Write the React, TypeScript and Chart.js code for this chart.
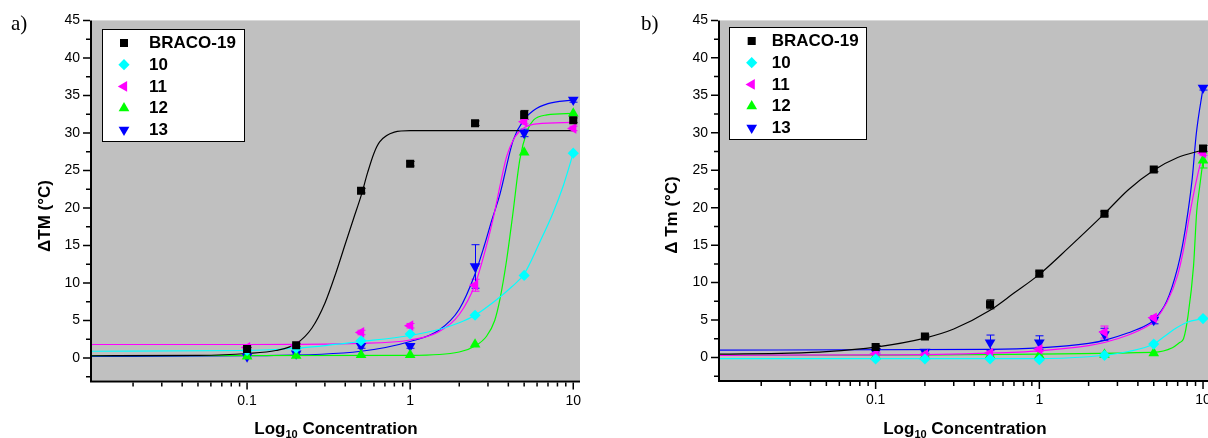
import React, { useEffect, useRef } from 'react';
import { Chart, registerables } from 'chart.js';
import { drawPoint } from 'chart.js/helpers';

Chart.register(...registerables);

// ---------------- data ----------------
const concentrations = [0.1, 0.2, 0.5, 1, 2.5, 5, 10];
const seriesNames = ['BRACO-19', '10', '11', '12', '13'];
const seriesColors = ['#000000', '#00FFFF', '#FF00FF', '#00FF00', '#0000FF'];
const pointStyles = ['rect', 'rectRot', 'triangle', 'triangle', 'triangle'];
const pointRotations = [0, 0, -90, 0, 180];
const pointRadii = [5.7, 5.6, 6.2, 6.2, 6.2];

const yMajorTicks = [0, 5, 10, 15, 20, 25, 30, 35, 40, 45];
const yMinorTicks = [-2.5, 2.5, 7.5, 12.5, 17.5, 22.5, 27.5, 32.5, 37.5, 42.5];
const xMajorTicks = [0.1, 1, 10];
const xMinorTicks = [0.02, 0.03, 0.04, 0.05, 0.06, 0.07, 0.08, 0.09, 0.2, 0.3, 0.4, 0.5, 0.6, 0.7, 0.8, 0.9, 2, 3, 4, 5, 6, 7, 8, 9];
const xTickLabels = ['0.1', '1', '10'];

// Panel a measured values
const a_braco = [1.2, 1.7, 22.3, 25.9, 31.3, 32.4, 31.7];
const a_c10 = [1.0, 1.3, 2.3, 3.2, 5.7, 11.0, 27.3];
const a_c11 = [1.4, 1.6, 3.4, 4.3, 9.7, 31.5, 30.6];
const a_c12 = [0.2, 0.3, 0.4, 0.4, 1.8, 27.4, 32.6];
const a_c13 = [0.2, 0.6, 1.6, 1.6, 12.2, 30.0, 34.4];
const a_err_braco = [0.2, 0.2, 0.3, 0.3, 0.3, 0.6, 0.3];
const a_err_c10 = [0, 0, 0, 0, 0, 0, 0];
const a_err_c11 = [0.2, 0.2, 0.3, 0.3, 0.8, 0.3, 0.3];
const a_err_c12 = [0, 0, 0, 0, 0, 0, 0];
const a_err_c13 = [0.2, 0.2, 0.3, 0.3, 2.9, 0.5, 0.3];

// Panel a fitted curves
const a_fit_braco_x = [0.0112, 0.05, 0.1, 0.15, 0.2, 0.25, 0.3, 0.35, 0.4, 0.45, 0.5, 0.55, 0.6, 0.65, 0.8, 1.0, 2, 10];
const a_fit_braco_y = [0.3, 0.35, 0.6, 1.0, 1.9, 4.0, 7.3, 11.3, 15.2, 18.6, 21.6, 24.8, 27.3, 28.8, 30.1, 30.3, 30.3, 30.3];
const a_fit_c10_x = [0.0112, 0.1, 0.2, 0.5, 1, 1.5, 2, 2.5, 3.4, 4.2, 5, 6.25, 7.5, 8.7, 10];
const a_fit_c10_y = [0.9, 1.0, 1.3, 2.2, 3.0, 3.8, 4.7, 5.7, 7.8, 9.5, 11.2, 15.5, 19.3, 23.0, 27.3];
const a_fit_c11_x = [0.0112, 0.1, 0.5, 1, 1.5, 2, 2.5, 2.9, 3.23, 3.6, 3.9, 4.4, 5, 6, 10];
const a_fit_c11_y = [1.8, 1.8, 1.95, 2.4, 3.5, 5.8, 9.8, 14.5, 18.6, 23.5, 26.8, 29.5, 30.7, 31.2, 31.4];
const a_fit_c12_x = [0.0112, 1, 2, 2.5, 2.94, 3.3, 3.55, 3.9, 4.25, 4.7, 5.2, 5.7, 6.9, 10];
const a_fit_c12_y = [0.3, 0.35, 0.8, 1.6, 2.9, 5.0, 7.8, 13.0, 19.0, 26.4, 30.2, 31.7, 32.4, 32.6];
const a_fit_c13_x = [0.0112, 0.1, 0.5, 1, 1.5, 2, 2.5, 2.85, 3.17, 3.55, 4.28, 5, 5.7, 7, 10];
const a_fit_c13_y = [0.2, 0.3, 0.9, 2.2, 3.7, 6.5, 11.2, 15.0, 18.4, 21.8, 29.0, 31.8, 33.0, 33.9, 34.4];

// Panel b measured values
const b_braco = [1.4, 2.8, 7.1, 11.2, 19.2, 25.1, 27.9];
const b_c10 = [-0.2, -0.2, -0.2, -0.3, 0.3, 1.8, 5.2];
const b_c11 = [0.5, 0.4, 0.6, 1.1, 3.4, 5.3, 27.3];
const b_c12 = [0.2, 0.2, 0.3, 0.3, 0.4, 0.6, 26.3];
const b_c13 = [0.75, 0.75, 2.0, 2.0, 3.1, 5.0, 36.0];
const b_err_braco = [0.2, 0.2, 0.6, 0.3, 0.3, 0.3, 0.4];
const b_err_c10 = [0, 0, 0, 0, 0, 0, 0];
const b_err_c11 = [0.2, 0.2, 0.3, 0.3, 0.8, 0.3, 0.3];
const b_err_c12 = [0, 0, 0, 0, 0, 0, 1.0];
const b_err_c13 = [0.3, 0.3, 1.0, 0.9, 0.8, 0.5, 0.3];

// Panel b fitted curves
const b_fit_braco_x = [0.0112, 0.03, 0.05, 0.1, 0.2, 0.3, 0.5, 0.7, 1, 1.5, 2.5, 3.5, 5, 7, 10];
const b_fit_braco_y = [0.45, 0.6, 0.8, 1.4, 2.6, 3.8, 6.3, 8.6, 11.1, 14.6, 19.2, 22.4, 25.0, 26.7, 27.7];
const b_fit_c10_x = [0.0112, 1, 2, 2.5, 3.5, 5, 5.8, 6.6, 8, 10];
const b_fit_c10_y = [-0.15, -0.15, 0.1, 0.3, 0.8, 1.8, 2.8, 3.7, 4.7, 5.2];
const b_fit_c11_x = [0.0112, 0.1, 0.5, 1, 2, 2.5, 3.5, 4.5, 5, 6, 7, 7.6, 8.2, 8.7, 9.3, 10];
const b_fit_c11_y = [0.3, 0.35, 0.6, 0.9, 1.6, 2.0, 3.0, 4.1, 4.8, 7.3, 11.0, 14.4, 18.5, 21.5, 24.5, 27.3];
const b_fit_c12_x = [0.0112, 5, 6.5, 7.2, 7.6, 8.1, 8.75, 9.15, 9.5, 10];
const b_fit_c12_y = [0.3, 0.7, 1.3, 2.0, 2.5, 5.6, 12.2, 19.5, 22.5, 26.3];
const b_fit_c13_x = [0.0112, 0.5, 1, 2, 2.5, 3.5, 4.5, 5, 6, 7, 7.5, 8.1, 8.6, 9.1, 10];
const b_fit_c13_y = [1.0, 1.1, 1.3, 1.9, 2.3, 3.3, 4.3, 5.0, 7.5, 12.0, 15.0, 19.5, 24.0, 29.9, 36.0];

const xMin = 0.0112;
const xMax = 11.0;
const yMin = -3;
const yMax = 45;

// ---------------- layout ----------------
const FONT = "'Liberation Sans', Arial, Helvetica, sans-serif";

type Layout = {
  canvasW: number;
  canvasH: number;
  areaLeft: number;
  areaRight: number;
  areaTop: number;
  areaBottom: number;
  label: string;
  labelX: number;
  labelY: number;
  yTitle: string;
  yTitleX: number;
  yTitleY: number;
  legendX: number;
  legendY: number;
  legendW: number;
  legendH: number;
  legendMarkerX: number;
  legendTextX: number;
  legendRow0: number;
  legendRowDy: number;
};

const layoutA: Layout = {
  canvasW: 604, canvasH: 438,
  areaLeft: 92, areaRight: 580, areaTop: 20, areaBottom: 380.5,
  label: 'a)', labelX: 11, labelY: 30,
  yTitle: 'ΔTM (°C)', yTitleX: 45, yTitleY: 216,
  legendX: 102, legendY: 29, legendW: 142, legendH: 112,
  legendMarkerX: 124, legendTextX: 149, legendRow0: 43, legendRowDy: 21.7,
};

const layoutB: Layout = {
  canvasW: 620, canvasH: 438,
  areaLeft: 116, areaRight: 605.8, areaTop: 19, areaBottom: 380,
  label: 'b)', labelX: 37, labelY: 30,
  yTitle: 'Δ Tm (°C)', yTitleX: 68.5, yTitleY: 215,
  legendX: 125, legendY: 27, legendW: 137, legendH: 112,
  legendMarkerX: 147.7, legendTextX: 167.7, legendRow0: 41, legendRowDy: 21.7,
};

function toPoints(xs: number[], ys: number[]) {
  return xs.map((x, i) => ({ x, y: ys[i] }));
}

function decorPlugin(L: Layout) {
  return {
    id: 'decor',
    beforeDraw(chart: any) {
      const { ctx, chartArea: a } = chart;
      ctx.save();
      ctx.fillStyle = '#ffffff';
      ctx.fillRect(0, 0, chart.width, chart.height);
      ctx.fillStyle = '#c0c0c0';
      ctx.fillRect(a.left, a.top, a.right - a.left, a.bottom - a.top);
      ctx.restore();
    },
    beforeDatasetsDraw(chart: any) {
      const { ctx } = chart;
      const xs = chart.scales.x;
      const ys = chart.scales.y;
      ctx.save();
      chart.data.datasets.forEach((ds: any) => {
        if (!ds.errors) return;
        ctx.strokeStyle = ds.borderColor;
        ctx.lineWidth = 1;
        ds.data.forEach((pt: any, i: number) => {
          const e = ds.errors[i];
          if (!e) return;
          const px = Math.round(xs.getPixelForValue(pt.x)) + 0.5;
          const y1 = ys.getPixelForValue(pt.y + e);
          const y2 = ys.getPixelForValue(pt.y - e);
          ctx.beginPath();
          ctx.moveTo(px, y1);
          ctx.lineTo(px, y2);
          ctx.moveTo(px - 4, y1);
          ctx.lineTo(px + 4, y1);
          ctx.moveTo(px - 4, y2);
          ctx.lineTo(px + 4, y2);
          ctx.stroke();
        });
      });
      ctx.restore();
    },
    afterDraw(chart: any) {
      const { ctx, chartArea: a } = chart;
      const xs = chart.scales.x;
      const ys = chart.scales.y;
      ctx.save();
      // axis lines
      ctx.strokeStyle = '#000';
      ctx.lineWidth = 2;
      ctx.beginPath();
      ctx.moveTo(a.left - 1, a.top);
      ctx.lineTo(a.left - 1, a.bottom + 1);
      ctx.lineTo(a.right, a.bottom + 1);
      ctx.stroke();
      // ticks
      ctx.lineWidth = 1.5;
      ctx.beginPath();
      yMajorTicks.forEach((v) => {
        const py = ys.getPixelForValue(v);
        ctx.moveTo(a.left - 2, py);
        ctx.lineTo(a.left - 9, py);
      });
      yMinorTicks.forEach((v) => {
        const py = ys.getPixelForValue(v);
        ctx.moveTo(a.left - 2, py);
        ctx.lineTo(a.left - 6, py);
      });
      xMajorTicks.forEach((v) => {
        const px = xs.getPixelForValue(v);
        ctx.moveTo(px, a.bottom + 2);
        ctx.lineTo(px, a.bottom + 9);
      });
      xMinorTicks.forEach((v) => {
        const px = xs.getPixelForValue(v);
        ctx.moveTo(px, a.bottom + 2);
        ctx.lineTo(px, a.bottom + 6);
      });
      ctx.stroke();

      // legend
      ctx.fillStyle = '#ffffff';
      ctx.fillRect(L.legendX, L.legendY, L.legendW, L.legendH);
      ctx.strokeStyle = '#000';
      ctx.lineWidth = 1;
      ctx.strokeRect(L.legendX + 0.5, L.legendY + 0.5, L.legendW, L.legendH);
      ctx.font = `bold 17px ${FONT}`;
      ctx.textBaseline = 'middle';
      ctx.textAlign = 'left';
      seriesNames.forEach((name, i) => {
        const ry = L.legendRow0 + i * L.legendRowDy;
        ctx.fillStyle = seriesColors[i];
        ctx.strokeStyle = seriesColors[i];
        drawPoint(ctx, {
          pointStyle: pointStyles[i],
          rotation: pointRotations[i],
          radius: pointRadii[i],
          borderWidth: 0,
        } as any, L.legendMarkerX, ry);
        ctx.fillStyle = '#000';
        ctx.fillText(name, L.legendTextX, ry + 0.5);
      });

      // x title with subscript
      const cx = (a.left + a.right) / 2;
      const base = 434;
      ctx.font = `bold 17px ${FONT}`;
      const w1 = ctx.measureText('Log').width;
      const w3 = ctx.measureText(' Concentration').width;
      ctx.font = `bold 11px ${FONT}`;
      const w2 = ctx.measureText('10').width;
      const total = w1 + w2 + w3;
      let sx = cx - total / 2;
      ctx.textBaseline = 'alphabetic';
      ctx.fillStyle = '#000';
      ctx.font = `bold 17px ${FONT}`;
      ctx.fillText('Log', sx, base);
      sx += w1;
      ctx.font = `bold 11px ${FONT}`;
      ctx.fillText('10', sx, base + 4);
      sx += w2;
      ctx.font = `bold 17px ${FONT}`;
      ctx.fillText(' Concentration', sx, base);

      // y title
      ctx.save();
      ctx.translate(L.yTitleX, L.yTitleY);
      ctx.rotate(-Math.PI / 2);
      ctx.textAlign = 'center';
      ctx.textBaseline = 'middle';
      ctx.font = `bold 17px ${FONT}`;
      ctx.fillText(L.yTitle, 0, 0);
      ctx.restore();

      // panel label
      ctx.font = "21px 'Liberation Serif', 'Times New Roman', serif";
      ctx.textAlign = 'left';
      ctx.textBaseline = 'alphabetic';
      ctx.fillText(L.label, L.labelX, L.labelY);
      ctx.restore();
    },
  };
}

function buildDatasets(values: number[][], errors: number[][], fitsX: number[][], fitsY: number[][]) {
  const ds: any[] = [];
  values.forEach((vals, i) => {
    ds.push({
      label: seriesNames[i],
      data: toPoints(concentrations, vals),
      showLine: false,
      pointStyle: pointStyles[i],
      pointRotation: pointRotations[i],
      pointRadius: pointRadii[i],
      pointBackgroundColor: seriesColors[i],
      pointBorderColor: seriesColors[i],
      pointBorderWidth: 0,
      borderColor: seriesColors[i],
      backgroundColor: seriesColors[i],
      errors: errors[i],
      order: 0,
    });
  });
  fitsX.forEach((fx, i) => {
    ds.push({
      label: seriesNames[i] + ' fit',
      data: toPoints(fx, fitsY[i]),
      showLine: true,
      pointRadius: 0,
      borderColor: seriesColors[i],
      borderWidth: 1.2,
      cubicInterpolationMode: 'monotone',
      fill: false,
      order: 1,
    });
  });
  return ds;
}

function makeConfig(L: Layout, datasets: any[]) {
  return {
    type: 'line',
    data: { datasets },
    options: {
      animation: false,
      responsive: false,
      events: [],
      layout: {
        padding: { left: 0, right: L.canvasW - L.areaRight, top: L.areaTop, bottom: 0 },
      },
      plugins: { legend: { display: false }, tooltip: { enabled: false } },
      scales: {
        x: {
          type: 'logarithmic',
          min: xMin,
          max: xMax,
          grid: { display: false, drawTicks: false },
          border: { display: false },
          ticks: {
            autoSkip: false,
            maxRotation: 0,
            padding: 12,
            color: '#000',
            font: { family: FONT, size: 14 },
            callback: (v: number) => {
              const idx = xMajorTicks.findIndex((t) => Math.abs(t - v) / t < 1e-6);
              return idx >= 0 ? xTickLabels[idx] : '';
            },
          },
          afterFit: (s: any) => {
            s.height = L.canvasH - L.areaBottom;
          },
        },
        y: {
          type: 'linear',
          min: yMin,
          max: yMax,
          grid: { display: false, drawTicks: false },
          border: { display: false },
          ticks: {
            stepSize: 5,
            padding: 12,
            color: '#000',
            font: { family: FONT, size: 14 },
            callback: (v: number) => (yMajorTicks.includes(v) ? String(v) : ''),
          },
          afterFit: (s: any) => {
            s.width = L.areaLeft;
          },
        },
      },
    },
    plugins: [decorPlugin(L)],
  };
}

function Panel({ layout, datasets, left }: { layout: Layout; datasets: any[]; left: number }) {
  const ref = useRef<HTMLCanvasElement | null>(null);
  useEffect(() => {
    if (!ref.current) return;
    const chart = new Chart(ref.current, makeConfig(layout, datasets) as any);
    return () => chart.destroy();
  }, []);
  return (
    <canvas
      ref={ref}
      width={layout.canvasW}
      height={layout.canvasH}
      style={{ position: 'absolute', left, top: 0, width: layout.canvasW, height: layout.canvasH }}
    />
  );
}

export default function App() {
  const dsA = buildDatasets(
    [a_braco, a_c10, a_c11, a_c12, a_c13],
    [a_err_braco, a_err_c10, a_err_c11, a_err_c12, a_err_c13],
    [a_fit_braco_x, a_fit_c10_x, a_fit_c11_x, a_fit_c12_x, a_fit_c13_x],
    [a_fit_braco_y, a_fit_c10_y, a_fit_c11_y, a_fit_c12_y, a_fit_c13_y]
  );
  const dsB = buildDatasets(
    [b_braco, b_c10, b_c11, b_c12, b_c13],
    [b_err_braco, b_err_c10, b_err_c11, b_err_c12, b_err_c13],
    [b_fit_braco_x, b_fit_c10_x, b_fit_c11_x, b_fit_c12_x, b_fit_c13_x],
    [b_fit_braco_y, b_fit_c10_y, b_fit_c11_y, b_fit_c12_y, b_fit_c13_y]
  );
  return (
    <div
      style={{
        position: 'absolute',
        left: 0,
        top: 0,
        width: 1208,
        height: 438,
        overflow: 'hidden',
        background: '#fff',
      }}
    >
      <Panel layout={layoutA} datasets={dsA} left={0} />
      <Panel layout={layoutB} datasets={dsB} left={604} />
    </div>
  );
}
